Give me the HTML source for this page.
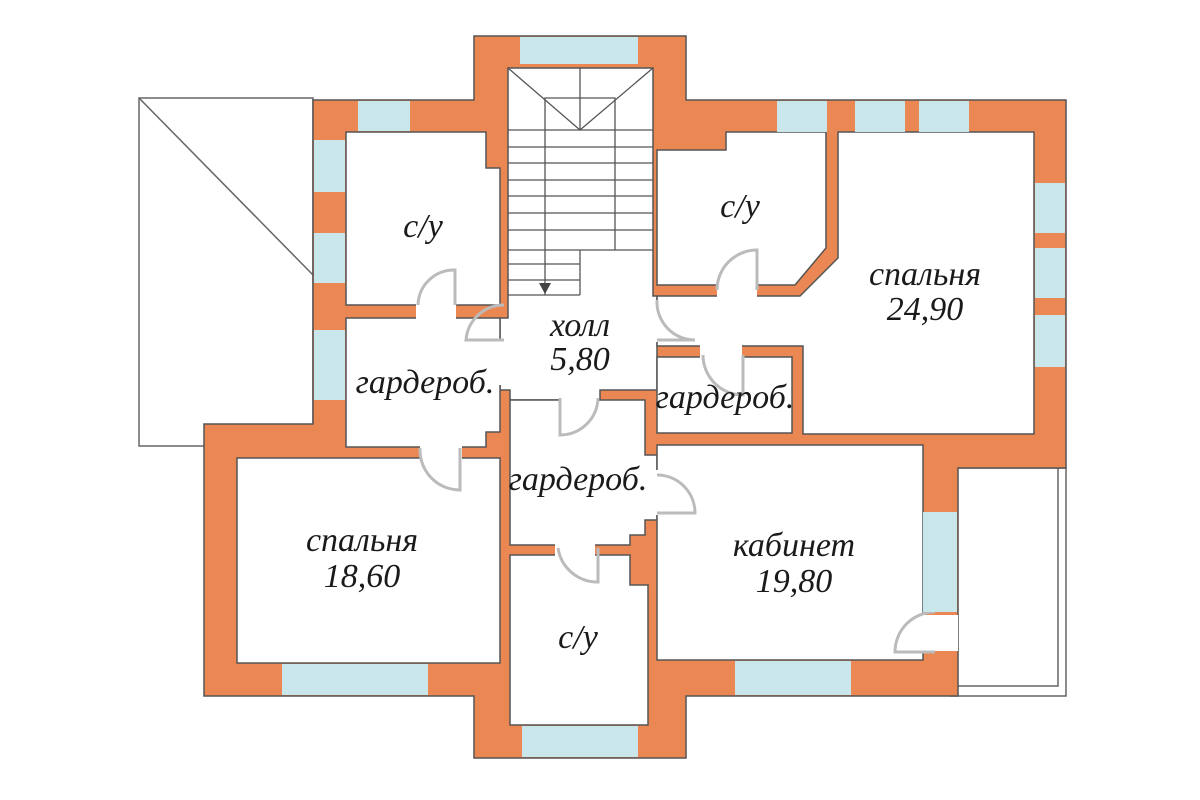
<!DOCTYPE html>
<html><head><meta charset="utf-8"><style>
html,body{margin:0;padding:0;background:#fff;}
svg{display:block;}
text{font-family:"Liberation Serif",serif;font-style:italic;font-size:34px;fill:#1a1a1a;text-anchor:middle;}
</style></head><body>
<svg width="1200" height="800" viewBox="0 0 1200 800" xmlns="http://www.w3.org/2000/svg">
<rect x="139" y="98" width="174" height="348" fill="#fff" stroke="#666" stroke-width="1.5"/>
<line x1="139" y1="98" x2="313" y2="275" stroke="#666" stroke-width="1.5"/>
<rect x="950" y="468" width="116" height="228" fill="#fff" stroke="#666" stroke-width="1.5"/>
<polyline points="958,686 1058,686 1058,468" fill="none" stroke="#666" stroke-width="1.5"/>
<polygon points="474,36 686,36 686,100 1066,100 1066,468 958,468 958,696 686,696 686,758 474,758 474,696 204,696 204,424 313,424 313,100 474,100"
 fill="#EA8753" stroke="#555" stroke-width="1.5"/>
<g fill="#fff" stroke="#555" stroke-width="1.5">
<polygon points="346,132 486,132 486,168 500,168 500,305 346,305"/>
<polygon points="508,68 653,68 653,296 657,296 657,390 600,390 600,400 510,400 510,390 500,390 500,318 508,318"/>
<polygon points="346,318 500,318 500,432 486,432 486,447 346,447"/>
<polygon points="657,150 726,150 726,132 826,132 826,248 795,285 657,285"/>
<polygon points="838,132 1034,132 1034,434 803,434 803,346 657,346 657,296 800,296 838,258"/>
<rect x="657" y="357" width="135" height="76"/>
<polygon points="510,400 645,400 645,455 657,455 657,520 645,520 645,535 630,535 630,545 510,545"/>
<rect x="657" y="445" width="266" height="215"/>
<polygon points="510,555 630,555 630,585 648,585 648,725 510,725"/>
<rect x="237" y="458" width="263" height="205"/>
</g>
<g fill="#fff">
<rect x="416" y="300" width="40" height="22"/>
<rect x="420" y="444" width="42" height="18"/>
<rect x="498" y="340" width="14" height="45"/>
<rect x="560" y="386" width="38" height="18"/>
<rect x="651" y="300" width="10" height="42"/>
<rect x="717" y="282" width="40" height="18"/>
<rect x="700" y="343" width="42" height="18"/>
<rect x="642" y="470" width="20" height="45"/>
<rect x="555" y="541" width="40" height="18"/>
<rect x="918" y="615" width="40" height="36"/>
</g>
<g fill="none" stroke="#bbb" stroke-width="3">
<path d="M455,305 V270 A36,36 0 0 0 418,305"/>
<path d="M460,448 V490 A40,40 0 0 1 420,448"/>
<path d="M504,340 H466 A38,38 0 0 1 504,305"/>
<path d="M560,398 V435 A38,38 0 0 0 598,398"/>
<path d="M657,340 H695 A38,38 0 0 1 657,300"/>
<path d="M757,290 V250 A40,40 0 0 0 717,290"/>
<path d="M743,355 V395 A40,40 0 0 1 703,355"/>
<path d="M657,475 A38,38 0 0 1 695,513 H657"/>
<path d="M598,548 V582 A40,40 0 0 1 558,548"/>
<path d="M935,612 A40,40 0 0 0 895,652 H935"/>
</g>
<g fill="#C9E6EA" stroke="none">
<rect x="520" y="37" width="118" height="27"/>
<rect x="358" y="101" width="52" height="30"/>
<rect x="314" y="140" width="31" height="52"/>
<rect x="314" y="233" width="31" height="50"/>
<rect x="314" y="330" width="31" height="70"/>
<rect x="777" y="101" width="50" height="31"/>
<rect x="855" y="101" width="50" height="31"/>
<rect x="919" y="101" width="50" height="31"/>
<rect x="1035" y="183" width="30" height="50"/>
<rect x="1035" y="248" width="30" height="50"/>
<rect x="1035" y="315" width="30" height="52"/>
<rect x="282" y="664" width="146" height="31"/>
<rect x="522" y="726" width="116" height="31"/>
<rect x="735" y="661" width="116" height="34"/>
<rect x="923" y="512" width="34" height="100"/>
</g>
<g fill="none" stroke="#555" stroke-width="1.3">
<line x1="508" y1="68" x2="580" y2="130"/>
<line x1="653" y1="68" x2="580" y2="130"/>
<line x1="580" y1="68" x2="580" y2="130"/>
<polyline points="545,295 545,98 615,98 615,250"/>
<line x1="508" y1="130" x2="653" y2="130"/>
<line x1="508" y1="147" x2="653" y2="147"/>
<line x1="508" y1="163" x2="653" y2="163"/>
<line x1="508" y1="180" x2="653" y2="180"/>
<line x1="508" y1="196" x2="653" y2="196"/>
<line x1="508" y1="213" x2="653" y2="213"/>
<line x1="508" y1="230" x2="653" y2="230"/>
<line x1="508" y1="250" x2="653" y2="250"/>
<line x1="508" y1="264" x2="580" y2="264"/>
<line x1="508" y1="280" x2="580" y2="280"/>
<line x1="580" y1="250" x2="580" y2="295"/>
<line x1="508" y1="295" x2="580" y2="295"/>
</g>
<polygon points="539,283 551,283 545,294" fill="#444"/>
<text x="423" y="237">с/у</text>
<text x="740" y="217">с/у</text>
<text x="580" y="336">холл</text>
<text x="580" y="370">5,80</text>
<text x="425" y="393">гардероб.</text>
<text x="725" y="408">гардероб.</text>
<text x="925" y="285">спальня</text>
<text x="925" y="320">24,90</text>
<text x="578" y="490">гардероб.</text>
<text x="362" y="551">спальня</text>
<text x="362" y="587">18,60</text>
<text x="794" y="556">кабинет</text>
<text x="794" y="592">19,80</text>
<text x="578" y="648">с/у</text>
</svg>
</body></html>
